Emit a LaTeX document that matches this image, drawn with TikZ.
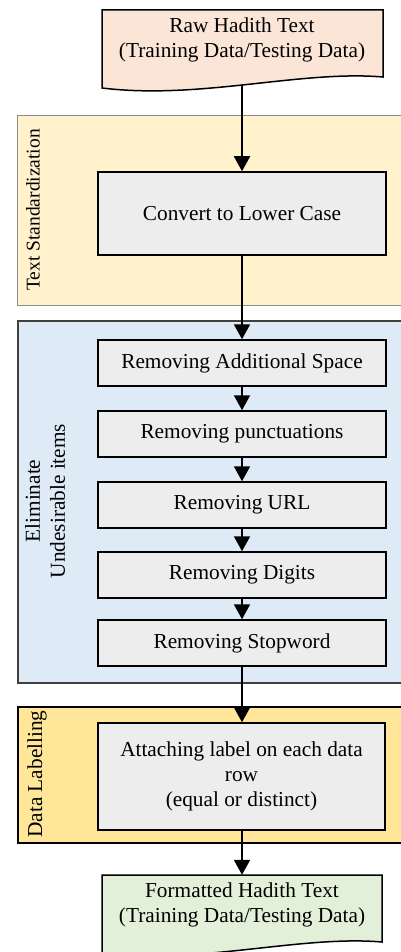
\documentclass[tikz,border=0pt]{standalone}
\usepackage{fontspec}
\setmainfont{Liberation Serif}
\usetikzlibrary{arrows.meta}
\definecolor{peach}{HTML}{FBE5D6}
\definecolor{tsfill}{HTML}{FFF2CC}
\definecolor{tsborder}{HTML}{8C8C8C}
\definecolor{elfill}{HTML}{DEEBF7}
\definecolor{elborder}{HTML}{404040}
\definecolor{dlfill}{HTML}{FFE699}
\definecolor{fmtfill}{HTML}{E2F0D9}
\definecolor{boxgray}{HTML}{EDEDED}
\newcommand\myfs{\fontsize{21.3}{25}\selectfont}
\begin{document}
\begin{tikzpicture}[x=1pt,y=-1pt,
  box/.style={draw=black, line width=1.5pt, fill=boxgray, minimum width=288pt, inner sep=0pt, font=\myfs, align=center},
  grp/.style={line width=1pt, minimum width=400pt, anchor=north west, inner sep=0pt},
  doctext/.style={font=\myfs, align=center, minimum width=281pt, inner sep=0pt},
  glabel/.style={rotate=90, font=\myfs, align=center},
  arr/.style={line width=2pt, -{Triangle[width=16pt,length=15pt]}}]
\useasboundingbox (0,0) rectangle (401,952);

% groups
\node[grp, draw=tsborder, fill=tsfill, minimum height=190pt] (ts) at (17,115) {};
\node[grp, draw=elborder, line width=1.5pt, fill=elfill, minimum height=362pt] (el) at (17,320) {};
\node[grp, draw=black, line width=1.5pt, fill=dlfill, minimum height=136pt] (dl) at (17,706) {};

\node[glabel, font=\fontsize{19.5}{24}\selectfont] (tslab) at (33,210) {Text Standardization};
\node[glabel] (ellab) at (45,501) {Eliminate\\Undesirable items};
\node[glabel] (dllab) at (37,774) {Data Labelling};

% documents
\draw[line width=1.5pt, fill=peach] (102,10) -- (383,10) -- (383,77)
  .. controls (300,70) and (200,100) .. (102,88) -- cycle;
\node[doctext, minimum height=90pt] (raw) at (242,40) {Raw Hadith Text\\(Training Data/Testing Data)};

\draw[line width=1.5pt, fill=fmtfill] (102,875) -- (382,875) -- (382,942)
  .. controls (300,935) and (200,965) .. (102,953) -- cycle;
\node[doctext, minimum height=60pt] (fmt) at (242,905) {Formatted Hadith Text\\(Training Data/Testing Data)};

% process boxes
\node[box, minimum height=83pt] (conv) at (242,213.5) {Convert to Lower Case};
\node[box, minimum height=46pt] (s1) at (242,363) {Removing Additional Space};
\node[box, minimum height=46pt] (s2) at (242,434) {Removing punctuations};
\node[box, minimum height=46pt] (s3) at (242,505) {Removing URL};
\node[box, minimum height=46pt] (s4) at (242,575) {Removing Digits};
\node[box, minimum height=46pt] (s5) at (242,643) {Removing Stopword};
\node[box, minimum height=107pt, minimum width=287pt] (att) at (241.5,776.5) {Attaching label on each data\\row\\(equal or distinct)};

% connectors
\draw[arr] (raw.south) -- (conv.north);
\draw[arr] (conv.south) -- (s1.north);
\draw[arr] (s1.south) -- (s2.north);
\draw[arr] (s2.south) -- (s3.north);
\draw[arr] (s3.south) -- (s4.north);
\draw[arr] (s4.south) -- (s5.north);
\draw[arr] (s5.south) -- (att.north -| s5.south);
\draw[arr] (att.south -| s5.south) -- (fmt.north);
\end{tikzpicture}
\end{document}
